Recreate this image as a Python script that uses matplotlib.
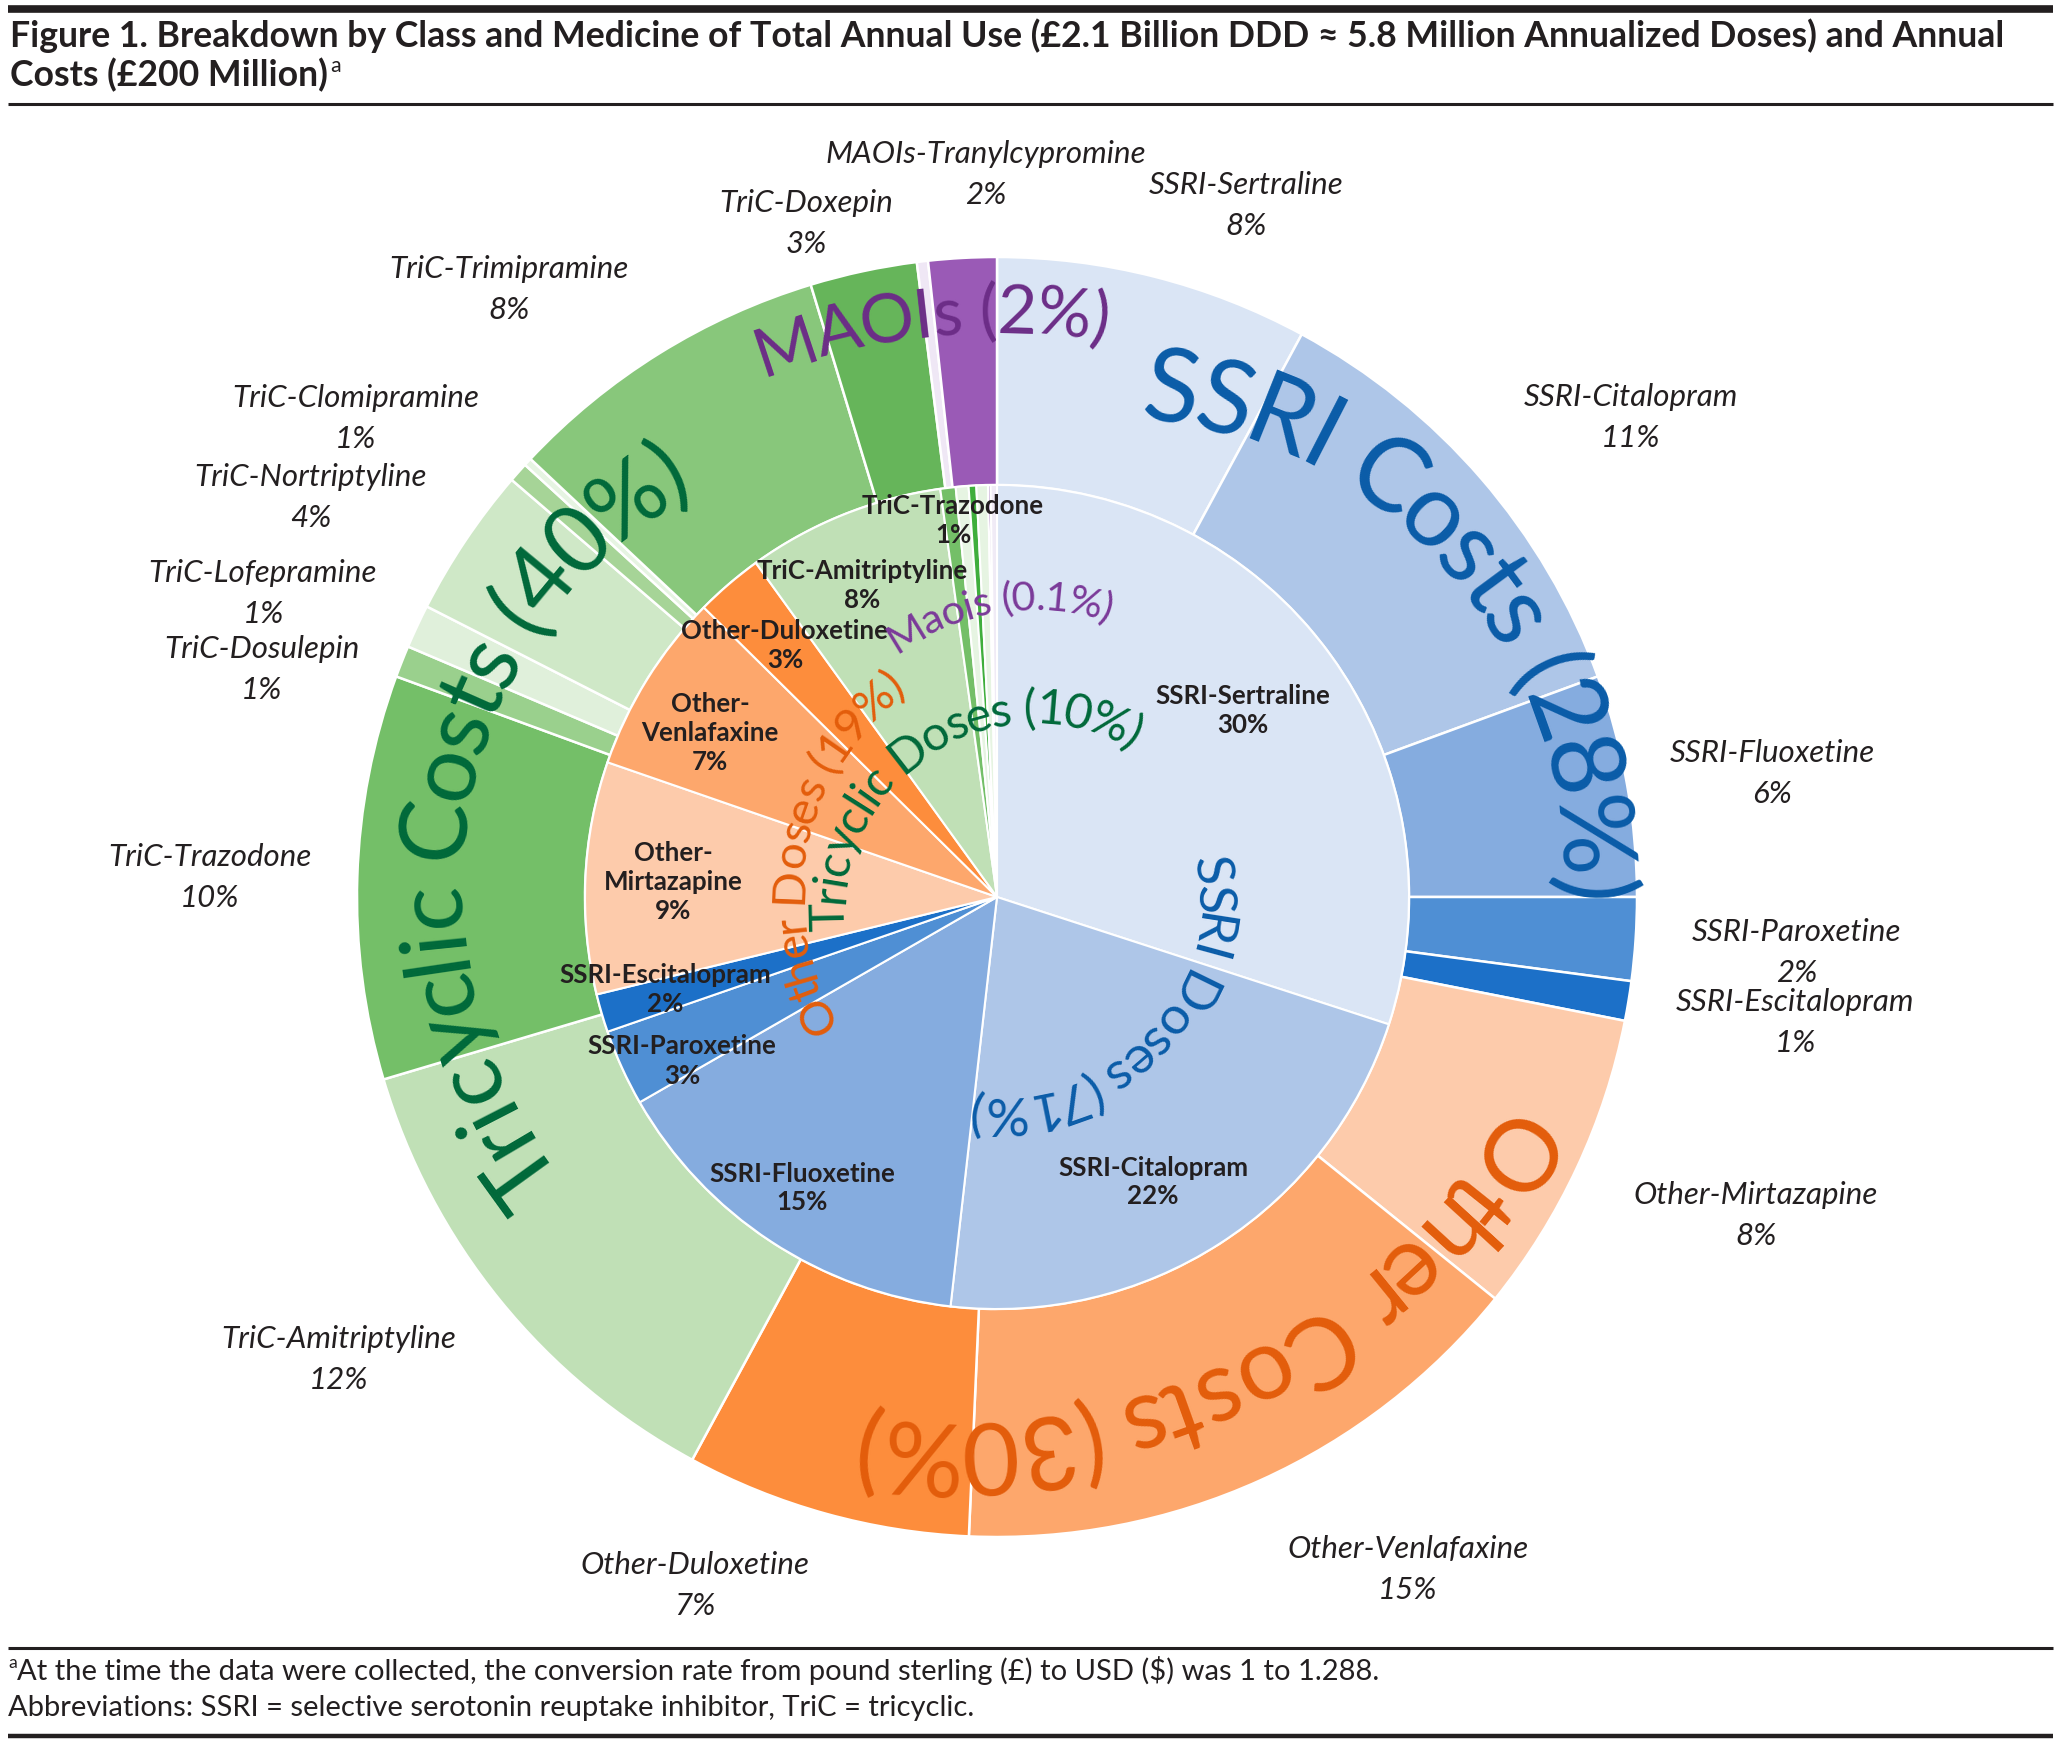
import numpy as np
import matplotlib
matplotlib.use('Agg')
import matplotlib.pyplot as plt
from matplotlib.font_manager import FontProperties, findfont, get_font

W, H = 2061, 1747
FAM = ['Lato', 'DejaVu Sans']
plt.rcParams['font.family'] = FAM
INK = '#231f20'

# outer ring: annual costs (%)
outer_names = ['SSRI-Sertraline', 'SSRI-Citalopram', 'SSRI-Fluoxetine', 'SSRI-Paroxetine',
               'SSRI-Escitalopram', 'Other-Mirtazapine', 'Other-Venlafaxine', 'Other-Duloxetine',
               'TriC-Amitriptyline', 'TriC-Trazodone', 'TriC-Dosulepin', 'TriC-Lofepramine',
               'TriC-Nortriptyline', 'TriC-Clomipramine', 'TriC-other', 'TriC-Trimipramine',
               'TriC-Doxepin', 'MAOIs-other', 'MAOIs-Tranylcypromine']
outer_values = [7.9, 11.5, 5.6, 2.1, 1.0, 7.7, 14.9, 7.2, 12.5, 10.2, 0.8, 1.1, 3.8, 0.5,
                0.2, 8.3, 2.7, 0.28, 1.72]
outer_pct = ['8%', '11%', '6%', '2%', '1%', '8%', '15%', '7%', '12%', '10%', '1%', '1%', '4%',
             '1%', None, '8%', '3%', None, '2%']
outer_colors = ['#dae5f5', '#aec6e8', '#85acdf', '#4f8fd4', '#1c70c8', '#fdcbab', '#fda76c',
                '#fd8d3c', '#c0e0b6', '#74bf68', '#9ad08d', '#e0f0db', '#cfe8c7', '#a6d497',
                '#e6f4e2', '#88c77b', '#66b55a', '#efe7f5', '#9a5ab6']

# inner pie: annual doses (%)
inner_names = ['SSRI-Sertraline', 'SSRI-Citalopram', 'SSRI-Fluoxetine', 'SSRI-Paroxetine',
               'SSRI-Escitalopram', 'Other-\nMirtazapine', 'Other-\nVenlafaxine',
               'Other-Duloxetine', 'TriC-Amitriptyline', 'TriC-Trazodone', 'TriC-a', 'TriC-b',
               'TriC-c', 'Maois', 'Maois-other']
inner_values = [30.0, 21.8, 14.9, 3.0, 1.5, 9.1, 7.1, 2.65, 7.75, 0.6, 0.5, 0.3, 0.45, 0.1, 0.25]
inner_pct = ['30%', '22%', '15%', '3%', '2%', '9%', '7%', '3%', '8%', '1%', None, None, None,
             None, None]
inner_colors = ['#dae5f5', '#aec6e8', '#85acdf', '#4f8fd4', '#1c70c8', '#fdcbab', '#fda76c',
                '#fd8d3c', '#c0e0b6', '#74bf68', '#e6f4e2', '#3fae3c', '#e6f4e2', '#7e3fa0',
                '#f0ebf6']
inner_explode = [0.017, 0.01, 0, 0, 0, 0, 0, 0, 0, 0, 0, 0, 0, 0, 0]

# label positions in pixels (x, y from top)
outer_pos = {'SSRI-Sertraline': (1246, 205), 'SSRI-Citalopram': (1631, 417),
             'SSRI-Fluoxetine': (1772, 773), 'SSRI-Paroxetine': (1797, 952),
             'SSRI-Escitalopram': (1795, 1022), 'Other-Mirtazapine': (1756, 1215),
             'Other-Venlafaxine': (1408, 1569), 'Other-Duloxetine': (695, 1585),
             'TriC-Amitriptyline': (339, 1359), 'TriC-Trazodone': (210, 877),
             'TriC-Dosulepin': (262, 669), 'TriC-Lofepramine': (263, 593),
             'TriC-Nortriptyline': (311, 497), 'TriC-Clomipramine': (356, 418),
             'TriC-Trimipramine': (509, 289), 'TriC-Doxepin': (806, 223),
             'MAOIs-Tranylcypromine': (986, 174)}
inner_pos = {'SSRI-Sertraline': (1243, 710), 'SSRI-Citalopram': (1153, 1182),
             'SSRI-Fluoxetine': (802, 1188), 'SSRI-Paroxetine': (682, 1061),
             'SSRI-Escitalopram': (665, 989), 'Other-\nMirtazapine': (673, 882),
             'Other-\nVenlafaxine': (710, 733), 'Other-Duloxetine': (785, 645),
             'TriC-Amitriptyline': (862, 585), 'TriC-Trazodone': (953, 520)}

CX, CY = 997, 897

fig = plt.figure(figsize=(W / 100, H / 100), dpi=100)
ax = fig.add_axes([0, 0, 1, 1])


def advances(s, weight='normal', style='normal'):
    prop = FontProperties(family=FAM, size=100, weight=weight, style=style)
    font = get_font(findfont(prop))
    font.set_size(100, 72)
    return np.array([font.load_char(ord(ch)).linearHoriAdvance / 65536 for ch in s]) * 100 / 72


def fit_size(s, target, weight='normal', style='normal'):
    return 100 * target / advances(s, weight, style).sum()


def arc_text(s, c, r, a0, a1, color):
    adv = advances(s)
    L = adv.sum() - adv[0] / 2 - adv[-1] / 2
    k = r * np.radians(a1 - a0) / L
    size = 100 * k
    adv = adv * k
    pos = np.cumsum(adv) - adv / 2 - adv[0] / 2
    rb = r - 0.34 * size * 100 / 72
    for ch, p in zip(s, pos):
        if ch == ' ':
            continue
        th = np.radians(a0) + p / r
        x = c[0] + rb * np.sin(th)
        y = c[1] - rb * np.cos(th)
        ax.text(x, H - y, ch, fontsize=size, color=color, rotation=-np.degrees(th),
                ha='center', va='baseline', rotation_mode='anchor')


ax.pie(outer_values, radius=640, center=(CX, H - CY), startangle=90, counterclock=False,
       colors=outer_colors, wedgeprops=dict(width=228, edgecolor='white', linewidth=1.8))
ax.pie(inner_values, radius=412, center=(CX, H - CY), startangle=90, counterclock=False,
       colors=inner_colors, explode=inner_explode,
       wedgeprops=dict(edgecolor='white', linewidth=1.5))
ax.set_xlim(0, W)
ax.set_ylim(0, H)
ax.set_aspect('auto')
ax.axis('off')

# outer labels
fs_out = fit_size('SSRI-Citalopram', 214, style='italic')
for name, pct in zip(outer_names, outer_pct):
    if pct is None:
        continue
    x, y = outer_pos[name]
    ax.text(x, H - (y - 20), name, fontsize=fs_out, style='italic', color=INK, ha='center', va='center')
    ax.text(x, H - (y + 21), pct, fontsize=fs_out, style='italic', color=INK, ha='center', va='center')

# inner labels
fs_in = fit_size('SSRI-Fluoxetine', 185, weight='bold')
for name, pct in zip(inner_names, inner_pct):
    if pct is None:
        continue
    x, y = inner_pos[name]
    ax.text(x, H - y, name + '\n' + pct, fontsize=fs_in, weight='bold', color=INK,
            ha='center', va='center', linespacing=1.25, multialignment='center')

# curved group labels
arc_text('SSRI Costs (28%)', (1098, 878), 496, 8.6, 91.5, '#0a5ca8')
arc_text('Other Costs (30%)', (952, 783), 673, 123.7, 187.6, '#e35d0b')
arc_text('Tricyclic Costs (40%)', (915, 890), 488, 234.2, 329.5, '#00693a')
arc_text('MAOIs (2%)', (999, 988), 678, 341.6, 368.6, '#6c2d87')
arc_text('SSRI Doses (71%)', (997, 897), 218, 83, 185.8, '#0a5ca8')
arc_text('Tricyclic Doses (10%)', (1033, 913), 206, 268.8, 389.1, '#00693a')
arc_text('Other Doses (19%)', (1052, 896), 266, 243.3, 323.1, '#e35d0b')
arc_text('Maois (0.1%)', (1034, 843), 247, 328.6, 377.2, '#7b3a99')

# title
t1 = 'Figure 1. Breakdown by Class and Medicine of Total Annual Use (£2.1 Billion DDD ≈ 5.8 Million Annualized Doses) and Annual'
fs_t = fit_size(t1, 2000, weight='bold')
ax.text(10, H - 47, t1, fontsize=fs_t, weight='bold', color=INK, ha='left', va='baseline')
t2 = ax.text(10, H - 86, 'Costs (£200 Million)', fontsize=fs_t, weight='bold', color=INK,
             ha='left', va='baseline')
rend = fig.canvas.get_renderer()
bb = t2.get_window_extent(renderer=rend)
ax.text(bb.x1 + 2, H - 86 + 14, 'a', fontsize=fs_t * 0.6, color=INK, ha='left', va='baseline')

# rules
ax.plot([8, 2053], [H - 9, H - 9], color=INK, lw=5.5, solid_capstyle='butt')
ax.plot([8, 2053], [H - 104, H - 104], color=INK, lw=2.2, solid_capstyle='butt')
ax.plot([8, 2053], [H - 1648, H - 1648], color=INK, lw=2.2, solid_capstyle='butt')
ax.plot([8, 2053], [H - 1736, H - 1736], color=INK, lw=3.2, solid_capstyle='butt')

# footnotes
f1 = 'At the time the data were collected, the conversion rate from pound sterling (£) to USD ($) was 1 to 1.288.'
fs_f = fit_size(f1, 1360)
ax.text(8, H - 1668, 'a', fontsize=fs_f * 0.6, color=INK, ha='left', va='baseline')
ax.text(17, H - 1680, f1, fontsize=fs_f, color=INK, ha='left', va='baseline')
ax.text(8, H - 1716, 'Abbreviations: SSRI = selective serotonin reuptake inhibitor, TriC = tricyclic.',
        fontsize=fs_f, color=INK, ha='left', va='baseline')

fig.savefig('out.png', dpi=100)
